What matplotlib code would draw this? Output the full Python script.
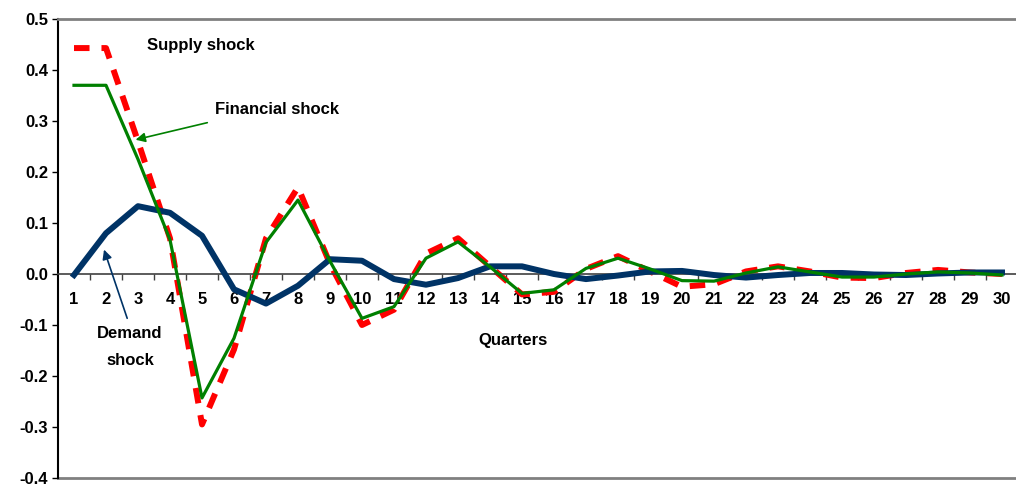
import matplotlib
matplotlib.use("Agg")
import matplotlib.pyplot as plt
import numpy as np

quarters = list(range(1, 31))
supply = [0.443, 0.443, 0.26, 0.07, -0.295, -0.148, 0.07, 0.17, 0.02, -0.10,
          -0.07, 0.04, 0.07, 0.015, -0.04, -0.035, 0.01, 0.035, 0.005, -0.025,
          -0.02, 0.005, 0.015, 0.005, -0.007, -0.008, 0.002, 0.008, 0.003, 0.0]
financial = [0.37, 0.37, 0.225, 0.067, -0.243, -0.126, 0.062, 0.145, 0.025, -0.087,
             -0.064, 0.031, 0.063, 0.014, -0.038, -0.031, 0.011, 0.031, 0.01, -0.013,
             -0.014, 0.002, 0.014, 0.004, -0.006, -0.006, 0.0, 0.004, 0.002, -0.002]
demand = [-0.002, 0.08, 0.133, 0.12, 0.075, -0.03, -0.058, -0.023, 0.029, 0.026,
          -0.01, -0.021, -0.008, 0.015, 0.015, 0.0, -0.01, -0.003, 0.005, 0.006,
          -0.002, -0.007, -0.002, 0.002, 0.002, -0.001, -0.002, 0.001, 0.003, 0.003]
y_ticks = [0.5, 0.4, 0.3, 0.2, 0.1, 0.0, -0.1, -0.2, -0.3, -0.4]

plt.rcParams['font.family'] = ['Liberation Sans', 'DejaVu Sans']
plt.rcParams['font.weight'] = 'bold'

fig = plt.figure(figsize=(10.16, 4.87), dpi=100)
W, H = 1016, 487
left, right, top, bottom = 58, 1018, 19, 478
ax = fig.add_axes([left / W, 1 - bottom / H, (right - left) / W, (bottom - top) / H])

x = np.array(quarters)
ax.plot(x, supply, color='#ff0000', lw=4.3, dashes=(2.6, 2.0), zorder=2)
ax.plot(x, demand, color='#003366', lw=4.3, zorder=3)
ax.plot(x, financial, color='#008000', lw=2.3, zorder=4)

ax.set_xlim(0.5, 30.5)
ax.set_ylim(-0.4, 0.5)

FS = 12

# y axis
ax.set_yticks(y_ticks)
ax.set_yticklabels([f"{v:.1f}" for v in y_ticks], fontsize=FS, fontweight='bold')
ax.tick_params(axis='y', direction='out', length=4, width=1, pad=3, colors='black')

# x axis on zero line
ax.spines['bottom'].set_position(('data', 0))
ax.spines['bottom'].set_color('#404040')
ax.spines['bottom'].set_linewidth(1.2)
ax.set_xticks(np.arange(1.5, 30.5, 1.0))
ax.set_xticklabels([])
ax.set_xticks(x, minor=True)
ax.set_xticklabels([str(q) for q in quarters], minor=True, fontsize=FS, fontweight='bold')
ax.tick_params(axis='x', which='major', direction='out', length=4, width=1, color='#404040')
ax.tick_params(axis='x', which='minor', length=0, pad=13)

ax.spines['right'].set_visible(False)
ax.spines['top'].set_color('#808080')
ax.spines['top'].set_linewidth(2)
ax.spines['left'].set_color('black')
ax.spines['left'].set_linewidth(1.5)
ax.axhline(-0.4, color='#808080', lw=2, clip_on=False, zorder=1)

# annotations
ax.text(3.28, 0.449, 'Supply shock', fontsize=FS, fontweight='bold', va='center', ha='left')
ax.text(5.42, 0.322, 'Financial shock', fontsize=FS, fontweight='bold', va='center', ha='left')
ax.annotate('', xy=(2.84, 0.262), xytext=(5.25, 0.298),
            arrowprops=dict(arrowstyle='-|>', color='#008000', lw=1.2, mutation_scale=14))
ax.text(2.75, -0.143, 'Demand\nshock', fontsize=FS, fontweight='bold', va='center', ha='center',
        linespacing=1.95)
ax.annotate('', xy=(1.91, 0.053), xytext=(2.69, -0.092),
            arrowprops=dict(arrowstyle='-|>', color='#003366', lw=1.2, mutation_scale=14))
ax.text(14.72, -0.13, 'Quarters', fontsize=FS, fontweight='bold', va='center', ha='center')

fig.savefig('out.png', dpi=100)
